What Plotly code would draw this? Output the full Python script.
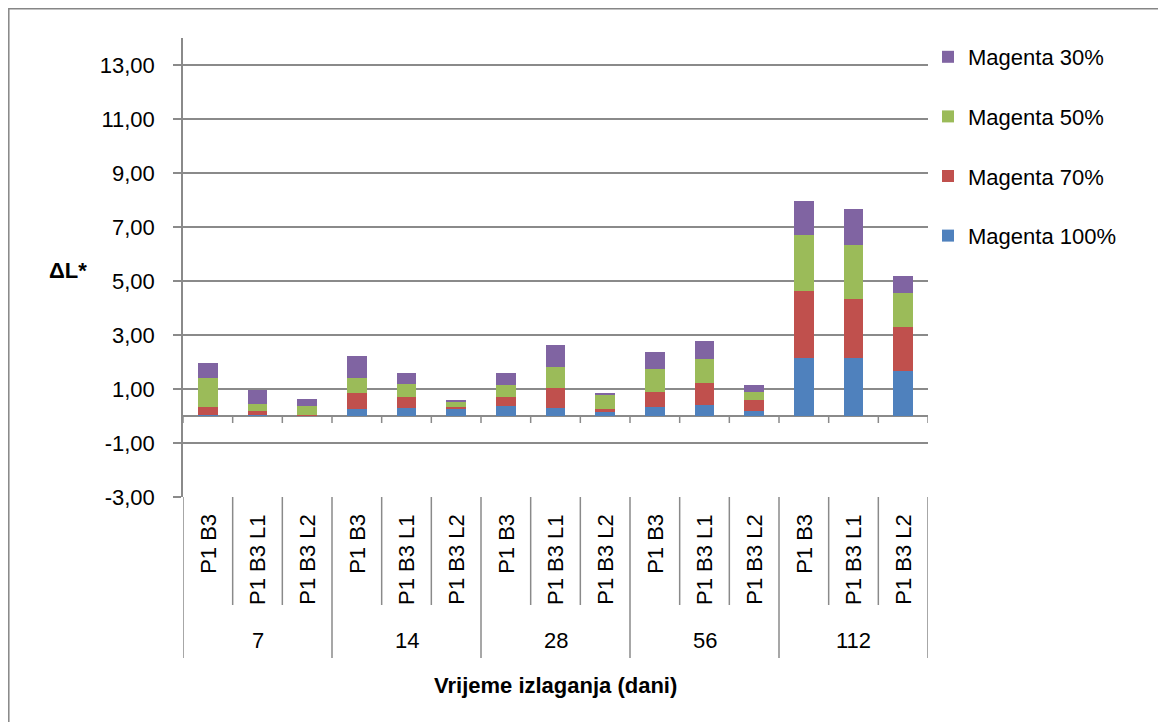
import plotly.graph_objects as go

# ---- data ----
groups = ["7", "14", "28", "56", "112"]
subs = ["P1 B3", "P1 B3 L1", "P1 B3 L2"]

magenta_100 = [0.03, 0.02, 0.01, 0.25, 0.28, 0.29, 0.37, 0.30, 0.14, 0.35, 0.39, 0.18, 2.16, 2.15, 1.68]
magenta_70 = [0.32, 0.18, 0.02, 0.62, 0.42, 0.06, 0.33, 0.74, 0.13, 0.55, 0.85, 0.43, 2.47, 2.18, 1.61]
magenta_50 = [1.05, 0.23, 0.34, 0.54, 0.50, 0.19, 0.46, 0.78, 0.53, 0.85, 0.86, 0.28, 2.08, 1.99, 1.28]
magenta_30 = [0.56, 0.52, 0.25, 0.83, 0.38, 0.04, 0.42, 0.80, 0.02, 0.63, 0.67, 0.24, 1.25, 1.35, 0.62]

series_names = ["Magenta 100%", "Magenta 70%", "Magenta 50%", "Magenta 30%"]
series_colors = ["#4F81BD", "#C0504D", "#9BBB59", "#8064A2"]

y_tick_vals = [-3, -1, 1, 3, 5, 7, 9, 11, 13]
y_tick_text = ["-3,00", "-1,00", "1,00", "3,00", "5,00", "7,00", "9,00", "11,00", "13,00"]

y_title = "ΔL*"
x_title = "Vrijeme izlaganja (dani)"

# ---- build ----
n_sub = len(subs)
x_pos = list(range(len(groups) * n_sub))
FONT = "Liberation Sans, Arial, sans-serif"
GRID = "#8a8a8a"

fig = go.Figure()
n_series = len(series_names)
for i, (name, vals, col) in enumerate(zip(series_names, [magenta_100, magenta_70, magenta_50, magenta_30],
                                          series_colors)):
    fig.add_trace(go.Bar(x=x_pos, y=vals, name=name, marker=dict(color=col, line=dict(width=0)),
                         legendgroup=name, legendrank=n_series - i))

# page has an 8px body margin: figure sized so it ends at the window edge
OFF = 8
W, H = 1166 - OFF, 722 - OFF
L, R, T, B = 183 - OFF, 238, 38 - OFF, 225
plot_w = W - L - R
plot_h = H - T - B


def px_x(p):  # reference page pixel -> paper x
    return (p - OFF - L) / plot_w


def px_y(p):  # reference page pixel -> paper y
    return (H - B - (p - OFF)) / plot_h


shapes = []
for k in range(len(x_pos) + 1):
    xb = k - 0.5
    shapes.append(dict(type="line", xref="x", yref="y", x0=xb, x1=xb, ysizemode="pixel",
                       yanchor=0, y0=0, y1=-7, line=dict(color=GRID, width=1.5)))
    depth = 161 if k % n_sub == 0 else 108
    shapes.append(dict(type="line", xref="x", yref="paper", x0=xb, x1=xb, ysizemode="pixel",
                       yanchor=0, y0=0, y1=-depth, line=dict(color=GRID, width=1.5)))
shapes.append(dict(type="rect", xref="paper", yref="paper",
                   x0=px_x(8.8), x1=px_x(1190), y0=px_y(740), y1=px_y(8.8),
                   line=dict(color="#868686", width=1.5), fillcolor="rgba(0,0,0,0)", layer="below"))

annotations = []
for gi, g in enumerate(groups):
    for si, s in enumerate(subs):
        annotations.append(dict(x=gi * n_sub + si, y=0, xref="x", yref="paper", text=s,
                                textangle=-90, showarrow=False, xanchor="center", yanchor="top",
                                yshift=-15, font=dict(family=FONT, size=22, color="#000")))
    annotations.append(dict(x=gi * n_sub + (n_sub - 1) / 2, y=0, xref="x", yref="paper", text=g,
                            showarrow=False, xanchor="center", yanchor="middle", yshift=-143,
                            font=dict(family=FONT, size=22, color="#000")))
annotations.append(dict(x=0.5, y=0, xref="paper", yref="paper", text="<b>" + x_title + "</b>",
                        showarrow=False, xanchor="center", yanchor="middle", yshift=-188,
                        font=dict(family=FONT, size=22, color="#000")))
annotations.append(dict(x=px_x(68), y=px_y(270), xref="paper", yref="paper",
                        text="<b>" + y_title + "</b>", showarrow=False, xanchor="center",
                        yanchor="middle", font=dict(family=FONT, size=22, color="#000")))

fig.update_layout(
    width=W, height=H,
    margin=dict(l=L, r=R, t=T, b=B, autoexpand=False),
    barmode="stack", bargap=0.6,
    plot_bgcolor="white", paper_bgcolor="white",
    font=dict(family=FONT, size=22, color="#000"),
    shapes=shapes, annotations=annotations,
    legend=dict(traceorder="grouped", tracegroupgap=28, xref="paper", yref="paper",
                x=px_x(928), y=px_y(36), xanchor="left", yanchor="top",
                font=dict(family=FONT, size=22, color="#000"), bgcolor="rgba(0,0,0,0)"),
    showlegend=True,
)
fig.update_xaxes(range=[-0.5, len(x_pos) - 0.5], showticklabels=False, showgrid=False,
                 zeroline=False, showline=False, ticks="")
fig.update_yaxes(range=[-3, 14], tickvals=y_tick_vals, ticktext=y_tick_text,
                 showgrid=True, gridcolor=GRID, gridwidth=1.5,
                 zeroline=True, zerolinecolor=GRID, zerolinewidth=1.5,
                 showline=True, linecolor=GRID, linewidth=1.5,
                 ticks="outside", ticklen=8, tickcolor=GRID, tickwidth=1.5,
                 ticklabelstandoff=14, tickfont=dict(family=FONT, size=22, color="#000"))

fig.write_html("out.html")
